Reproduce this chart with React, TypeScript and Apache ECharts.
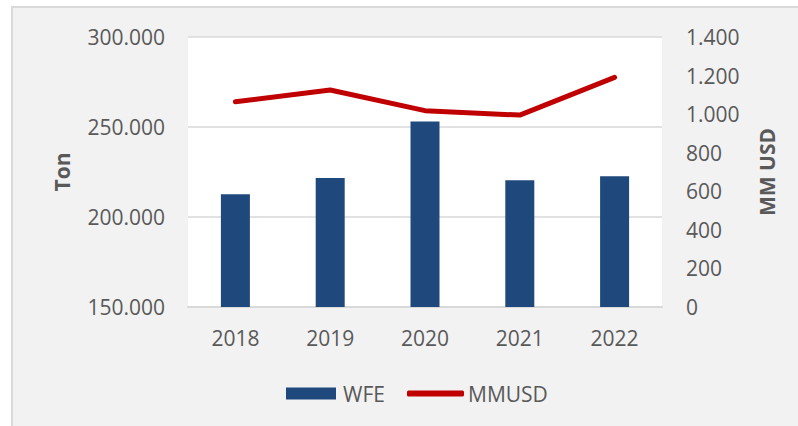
import React, { useEffect, useRef } from "react";
import * as echarts from "echarts";

const categories = ["2018", "2019", "2020", "2021", "2022"];
const wfeTon = [212600, 221700, 253100, 220400, 222600];
const mmUsd = [1064, 1125, 1018, 995, 1191];

const fmt = (v: number) => {
  const s = Math.round(v).toString();
  return s.replace(/\B(?=(\d{3})+(?!\d))/g, ".");
};

const FONT = "'Open Sans', 'Segoe UI', sans-serif";
const GREY = "#595959";

export default function App() {
  const ref = useRef<HTMLDivElement>(null);
  useEffect(() => {
    if (!ref.current) return;
    const chart = echarts.init(ref.current, undefined, { renderer: "svg" });
    chart.setOption({
      animation: false,
      backgroundColor: "transparent",
      textStyle: { fontFamily: FONT },
      grid: {
        left: 188,
        right: 136,
        top: 37,
        bottom: 119,
        show: true,
        backgroundColor: "#ffffff",
        borderWidth: 0,
      },
      legend: [
        {
          left: 281,
          top: 378,
          data: ["WFE"],
          itemWidth: 50,
          itemHeight: 12,
          icon: "rect",
          itemGap: 0,
          textStyle: { fontSize: 21, color: GREY, fontFamily: FONT, padding: [0, 0, 0, 2] },
        },
        {
          left: 402,
          top: 378,
          data: ["MMUSD"],
          itemWidth: 57,
          itemHeight: 6,
          icon: "roundRect",
          itemGap: 0,
          textStyle: { fontSize: 21, color: GREY, fontFamily: FONT, padding: [0, 0, 0, -1] },
        },
      ],
      xAxis: {
        type: "category",
        data: categories,
        axisLine: { lineStyle: { color: "#d9d9d9", width: 2 } },
        axisTick: { show: false },
        axisLabel: { fontSize: 21, color: GREY, margin: 20, fontFamily: FONT },
      },
      yAxis: [
        {
          type: "value",
          min: 150000,
          max: 300000,
          interval: 50000,
          name: "Ton",
          nameLocation: "middle",
          nameRotate: 90,
          nameGap: 116,
          nameTextStyle: { fontSize: 21, fontWeight: "bold", color: GREY, fontFamily: FONT },
          axisLine: { show: false },
          axisTick: { show: false },
          splitLine: { lineStyle: { color: "#d9d9d9", width: 1.5 } },
          axisLabel: { fontSize: 21, color: GREY, margin: 23, formatter: (v: number) => fmt(v), fontFamily: FONT },
        },
        {
          type: "value",
          min: 0,
          max: 1400,
          interval: 200,
          name: "MM USD",
          nameLocation: "middle",
          nameRotate: 90,
          nameGap: 94,
          nameTextStyle: { fontSize: 21, fontWeight: "bold", color: GREY, fontFamily: FONT },
          axisLine: { show: false },
          axisTick: { show: false },
          splitLine: { show: false },
          axisLabel: { fontSize: 21, color: GREY, margin: 24, formatter: (v: number) => fmt(v), fontFamily: FONT },
        },
      ],
      series: [
        {
          name: "WFE",
          type: "bar",
          data: wfeTon,
          yAxisIndex: 0,
          barWidth: 29,
          itemStyle: { color: "#1f497d" },
        },
        {
          name: "MMUSD",
          type: "line",
          data: mmUsd,
          yAxisIndex: 1,
          symbol: "none",
          lineStyle: { color: "#c00000", width: 5, cap: "round", join: "round" },
          itemStyle: { color: "#c00000" },
        },
      ],
    });
    return () => chart.dispose();
  }, []);

  return (
    <div style={{ position: "fixed", left: 0, top: 0, width: 798, height: 426, background: "#ffffff", overflow: "hidden" }}>
      <div
        style={{
          position: "absolute",
          left: 11,
          top: 6,
          width: 800,
          height: 430,
          background: "#f2f2f2",
          borderLeft: "2px solid #d9d9d9",
          borderTop: "2px solid #d9d9d9",
        }}
      />
      <div ref={ref} style={{ position: "absolute", left: 0, top: 0, width: 798, height: 426 }} />
    </div>
  );
}
